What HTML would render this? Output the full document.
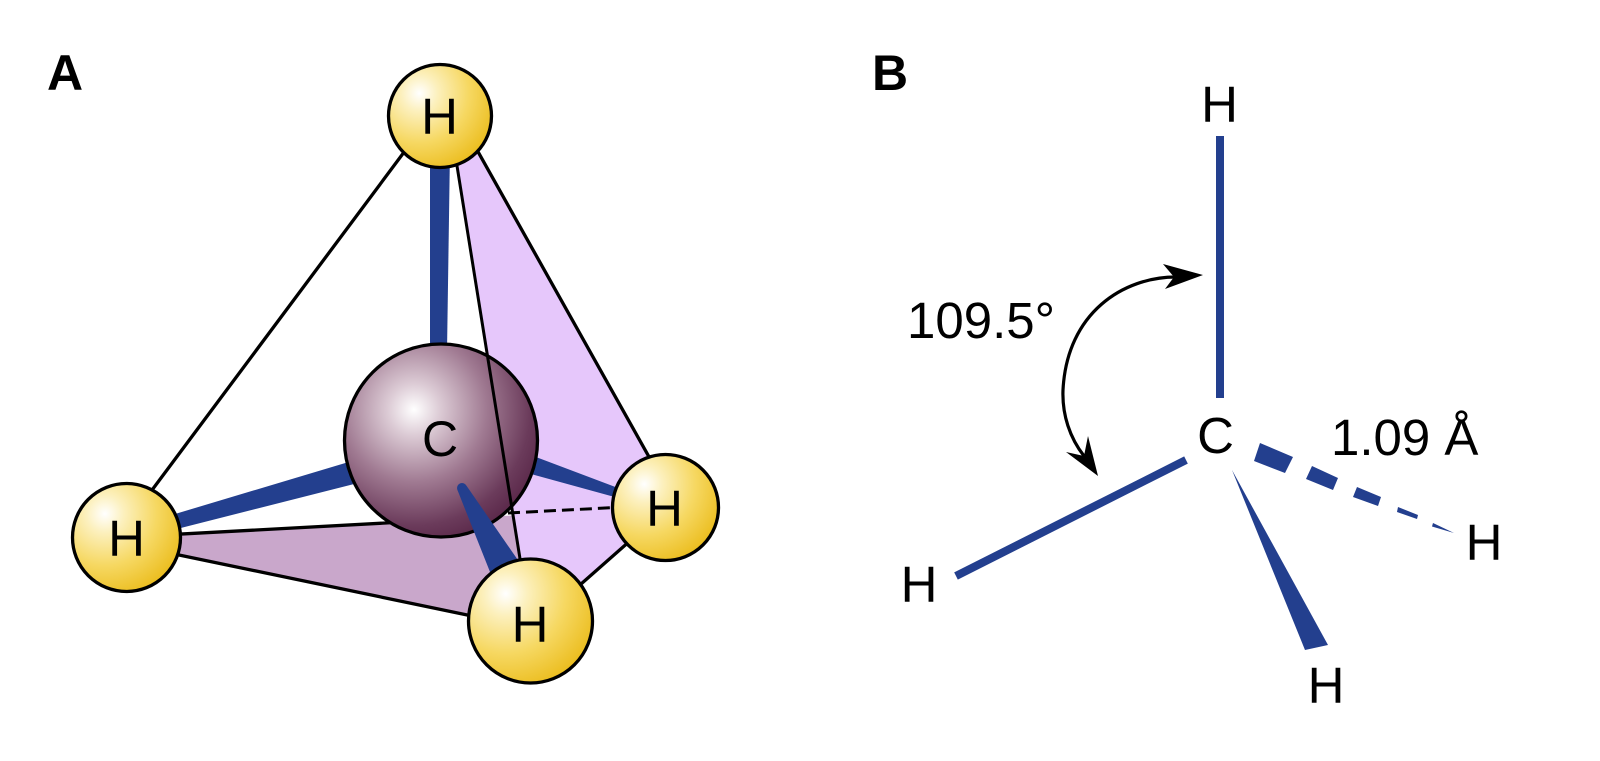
<!DOCTYPE html>
<html>
<head>
<meta charset="utf-8">
<style>
  html,body{margin:0;padding:0;background:#fff;}
  svg{display:block;}
  text{font-family:"Liberation Sans",Arial,Helvetica,sans-serif;}
</style>
</head>
<body>
<svg width="1600" height="761" viewBox="0 0 1600 761" xmlns="http://www.w3.org/2000/svg">
  <defs>
    <radialGradient id="hg" cx="0.3" cy="0.28" r="0.8" fx="0.3" fy="0.28">
      <stop offset="0" stop-color="#ffffff"/>
      <stop offset="0.22" stop-color="#fcf0bd"/>
      <stop offset="0.6" stop-color="#f6d862"/>
      <stop offset="1" stop-color="#ebbc1c"/>
    </radialGradient>
    <radialGradient id="cg" cx="0.36" cy="0.34" r="0.75" fx="0.36" fy="0.34">
      <stop offset="0" stop-color="#ffffff"/>
      <stop offset="0.18" stop-color="#dccbd5"/>
      <stop offset="0.5" stop-color="#a07a92"/>
      <stop offset="0.8" stop-color="#6b3b5b"/>
      <stop offset="1" stop-color="#552244"/>
    </radialGradient>
  </defs>

  <rect width="1600" height="761" fill="#fff"/>

  <!-- ===== Panel A ===== -->
  <text x="47" y="90" font-size="50" font-weight="bold" fill="#000">A</text>

  <!-- faces -->
  <polygon points="126,537 665,507 530,629 126,544" fill="#c9a7cb"/>
  <polygon points="449,116 458,116 674,501.5 531,628" fill="#e6c7fb"/>

  <!-- edges -->
  <g stroke="#000" stroke-width="3.3" fill="none" stroke-linecap="round">
    <line x1="431" y1="116" x2="117" y2="537"/>
    <line x1="458" y1="116" x2="674" y2="501.5"/>
    <line x1="126" y1="537" x2="441" y2="520"/>
    <line x1="126" y1="544" x2="530" y2="628"/>
    <line x1="530" y1="629" x2="665" y2="510"/>
  </g>
  <line x1="508" y1="513" x2="625" y2="507" stroke="#000" stroke-width="3" stroke-dasharray="12 6"/>

  <!-- bonds behind C -->
  <g fill="#233f8e">
    <polygon points="430,150 450,150 447,352 430,352"/>
    <polygon points="165,517 362,458 362,482 165,532"/>
    <polygon points="520,451 630,492.5 631,501.5 520,471"/>
    <circle cx="630" cy="497" r="4.6"/>
  </g>

  <!-- carbon -->
  <circle cx="441" cy="440.5" r="96.5" fill="url(#cg)" stroke="#000" stroke-width="3.3"/>
  <text x="440" y="456" font-size="50" text-anchor="middle" fill="#000">C</text>

  <!-- front edge over C -->
  <line x1="449" y1="116" x2="530" y2="621" stroke="#000" stroke-width="3"/>

  <!-- front bond -->
  <g fill="#233f8e">
    <circle cx="462" cy="488" r="5"/>
    <polygon points="466.4,485.6 457.6,490.4 494,582 522,566"/>
  </g>

  <!-- hydrogens -->
  <g stroke="#000" stroke-width="3.3" fill="url(#hg)">
    <circle cx="440" cy="116" r="51.5"/>
    <circle cx="126.5" cy="537.5" r="54"/>
    <circle cx="665.5" cy="507.5" r="53"/>
    <circle cx="530.5" cy="621" r="62"/>
  </g>
  <g font-size="51" text-anchor="middle" fill="#000">
    <text x="439.5" y="134">H</text>
    <text x="126.5" y="556">H</text>
    <text x="664.5" y="526">H</text>
    <text x="530" y="642">H</text>
  </g>

  <!-- ===== Panel B ===== -->
  <text x="872" y="90" font-size="50" font-weight="bold" fill="#000">B</text>

  <!-- bonds -->
  <line x1="1220" y1="136" x2="1220" y2="398" stroke="#233f8e" stroke-width="8"/>
  <line x1="1186" y1="460" x2="956" y2="576" stroke="#233f8e" stroke-width="8"/>
  <polygon points="1232,470 1305,650 1328,645" fill="#233f8e"/>
  <g fill="#233f8e">
    <polygon points="1260,443 1293,457 1285,473 1254,461"/>
    <polygon points="1312,466 1338,478 1333,490 1306,479"/>
    <polygon points="1357,487 1381,497 1378,506 1353,497"/>
    <polygon points="1398,507 1418,515 1417,519 1397,512"/>
    <polygon points="1433,523 1454,533 1432,526.5"/>
  </g>

  <!-- angle arrow -->
  <path d="M1176,277 C1124,277 1067,312 1063,390 C1062,415 1070,438 1084,456" fill="none" stroke="#000" stroke-width="3.2"/>
  <polygon points="1203,275 1163,264 1174,277 1165,289" fill="#000"/>
  <polygon points="1098,476 1066,452 1084,456 1088,436" fill="#000"/>

  <!-- labels -->
  <g font-size="51" fill="#000">
    <text x="1219.5" y="122" text-anchor="middle">H</text>
    <text x="1215.5" y="453" text-anchor="middle">C</text>
    <text x="919" y="602" text-anchor="middle">H</text>
    <text x="1484" y="560" text-anchor="middle">H</text>
    <text x="1326" y="703" text-anchor="middle">H</text>
    <text x="907" y="338">109.5°</text>
    <text x="1331" y="455">1.09 Å</text>
  </g>
</svg>
</body>
</html>
